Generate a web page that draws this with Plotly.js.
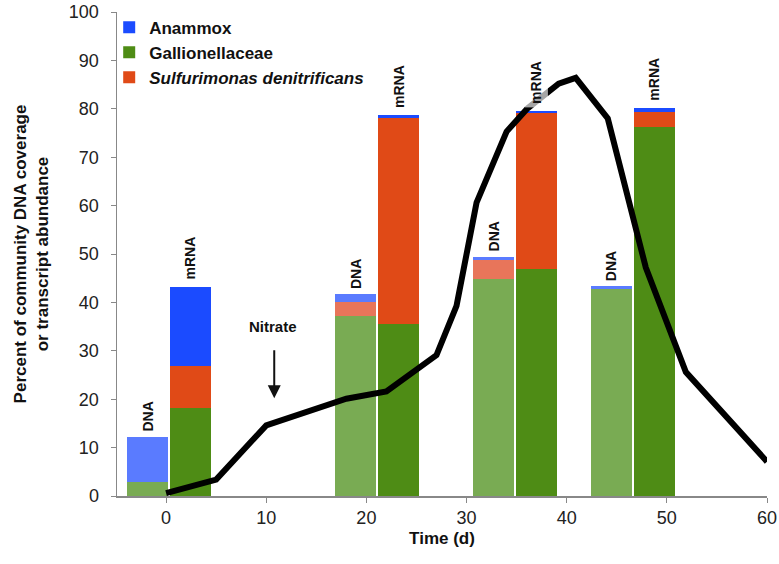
<!DOCTYPE html>
<html>
<head>
<meta charset="utf-8">
<script src="https://cdn.plot.ly/plotly-3.0.1.min.js"></script>
<style>html,body{margin:0;padding:0;background:#fff;}#chart{width:779px;height:564px;}</style>
</head>
<body>
<div id="chart"></div>
<script>
// Bar positions (day) for DNA and mRNA samples
const dnaX = [-1.85, 18.95, 32.7, 44.45];
const mrnaX = [2.4, 23.2, 37.0, 48.75];
// DNA coverage (%)
const dnaGallionellaceae = [2.9, 37.2, 44.8, 42.7];
const dnaSulfurimonas   = [0.0, 2.9, 3.9, 0.0];
const dnaAnammox        = [9.3, 1.6, 0.7, 0.7];
// mRNA transcript abundance (%)
const mrnaGallionellaceae = [18.2, 35.5, 46.9, 76.3];
const mrnaSulfurimonas    = [8.6, 42.5, 32.2, 3.1];
const mrnaAnammox         = [16.4, 0.7, 0.5, 0.8];
// Black curve
const lineX = [0, 5, 10, 18, 22, 27, 29, 31, 34, 36.1, 39.2, 40.9, 44.1, 47.9, 51.9, 60];
const lineY = [0.6, 3.4, 14.6, 20.1, 21.6, 29.1, 39.3, 60.6, 75.3, 80.1, 85.2, 86.4, 78.0, 47.2, 25.6, 7.1];
const xTicks = [0, 10, 20, 30, 40, 50, 60];
const yTicks = [0, 10, 20, 30, 40, 50, 60, 70, 80, 90, 100];

const W = 4.1;
const C = {
  anaD: '#5a7bff', anaM: '#1b4bff',
  galD: '#79ab53', galM: '#4e8c15',
  sulD: '#e8755a', sulM: '#e04a17'
};
function bar(x, y, color, name, show, rank) {
  return {type: 'bar', x: x, y: y, width: x.map(() => W), name: '<b>' + name + '</b>',
    marker: {color: color, line: {width: 0}}, showlegend: show, legendrank: rank,
    hoverinfo: 'y'};
}
const traces = [
  bar(dnaX, dnaGallionellaceae, C.galD, 'Gallionellaceae', false, 2),
  bar(mrnaX, mrnaGallionellaceae, C.galM, 'Gallionellaceae', true, 2),
  bar(dnaX, dnaSulfurimonas, C.sulD, '<i>Sulfurimonas denitrificans</i>', false, 3),
  bar(mrnaX, mrnaSulfurimonas, C.sulM, '<i>Sulfurimonas denitrificans</i>', true, 3),
  bar(dnaX, dnaAnammox, C.anaD, 'Anammox', false, 1),
  bar(mrnaX, mrnaAnammox, C.anaM, 'Anammox', true, 1),
  {type: 'scatter', mode: 'lines', x: lineX, y: lineY, showlegend: false,
   line: {color: '#000', width: 6}, hoverinfo: 'skip'}
];

const lblFont = {family: 'Arial, Liberation Sans', size: 14, color: '#111', weight: 'bold'};
const annotations = [];
dnaX.forEach((x, i) => {
  const top = dnaGallionellaceae[i] + dnaSulfurimonas[i] + dnaAnammox[i];
  annotations.push({x: x, y: top, yshift: 3, text: '<b>DNA</b>', textangle: -90, showarrow: false,
    yanchor: 'bottom', font: lblFont});
});
mrnaX.forEach((x, i) => {
  const top = mrnaGallionellaceae[i] + mrnaSulfurimonas[i] + mrnaAnammox[i];
  annotations.push({x: x, y: top, yshift: 3, text: '<b>mRNA</b>', textangle: -90, showarrow: false,
    yanchor: 'bottom', font: lblFont, bgcolor: 'rgba(255,255,255,0.65)', borderpad: 3});
});
annotations.push({x: 10.7, y: 35.0, text: '<b>Nitrate</b>', showarrow: false,
  font: {family: 'Arial, Liberation Sans', size: 15, color: '#111'}});
annotations.push({x: 10.8, y: 20.2, ax: 10.8, ay: 30.4, axref: 'x', ayref: 'y', text: '',
  showarrow: true, arrowhead: 2, arrowsize: 1.3, arrowwidth: 2, arrowcolor: '#111'});

const layout = {
  width: 779, height: 564,
  margin: {l: 117, r: 12, t: 10, b: 68},
  paper_bgcolor: '#fff', plot_bgcolor: '#fff',
  barmode: 'stack', bargap: 0,
  font: {family: 'Arial, Liberation Sans, sans-serif', color: '#222'},
  xaxis: {range: [-4.9, 60], tickvals: xTicks, ticks: 'outside', ticklen: 5, tickcolor: '#888',
    showgrid: false, zeroline: false, showline: true, linecolor: '#888', linewidth: 1.5,
    tickfont: {size: 18, color: '#222'},
    title: {text: '<b>Time (d)</b>', font: {size: 17, color: '#111'}, standoff: 5}},
  yaxis: {range: [0, 100], tickvals: yTicks, ticks: 'outside', ticklen: 5, tickcolor: '#888',
    showgrid: false, zeroline: false, showline: true, linecolor: '#888', linewidth: 1.5,
    tickfont: {size: 18, color: '#222'}, ticklabelstandoff: 8,
    title: {text: '<b>Percent of community DNA coverage<br>or transcript abundance</b>',
      font: {size: 17, color: '#111'}, standoff: 16}},
  legend: {x: -0.012, y: 1.005, xanchor: 'left', yanchor: 'top', traceorder: 'normal',
    bgcolor: 'rgba(0,0,0,0)', font: {size: 17, color: '#111', family: 'Arial, Liberation Sans'},
    itemwidth: 30, tracegroupgap: 0},
  annotations: annotations
};
Plotly.newPlot('chart', traces, layout, {displayModeBar: false, staticPlot: true});
</script>
</body>
</html>
